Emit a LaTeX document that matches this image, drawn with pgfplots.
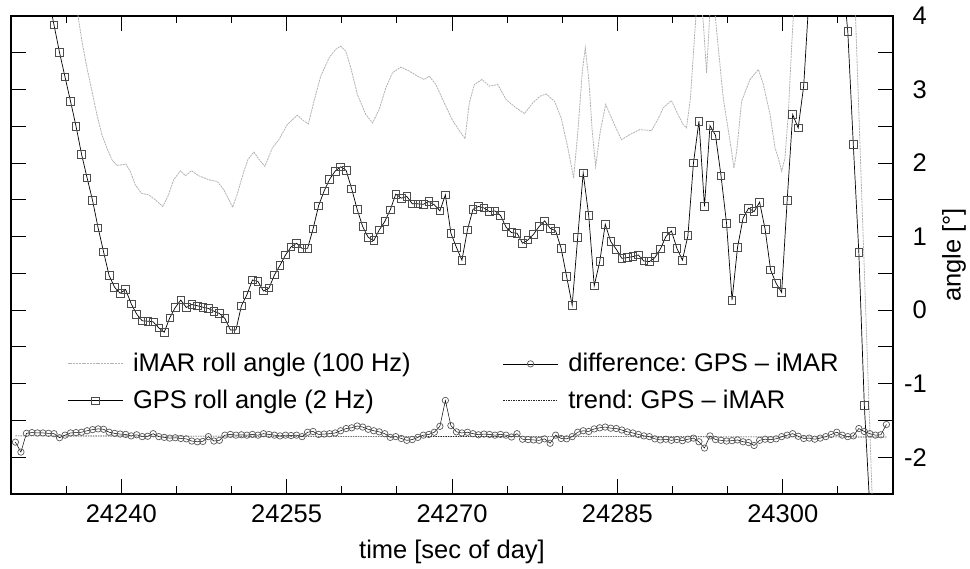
\documentclass[border=0pt]{standalone}
\usepackage{fontspec}
\setmainfont{Liberation Sans}
\usepackage{pgfplots}
\pgfplotsset{compat=1.18}

\begin{document}
\fontsize{25.5}{30}\selectfont\frenchspacing
\begin{tikzpicture}
\useasboundingbox (-11pt,-75pt) rectangle (959pt,494pt);
\begin{axis}[
  at={(0pt,0pt)}, anchor=south west,
  scale only axis, width=882pt, height=478pt,
  xmin=24230, xmax=24310, ymin=-2.5, ymax=4,
  scaled x ticks=false, scaled y ticks=false,
  axis line style={line width=1.1pt},
  tick align=inside,
  major tick length=15pt, minor tick length=7.5pt,
  every tick/.style={black, line width=0.9pt},
  xtick={24240,24255,24270,24285,24300},
  xticklabels={24240,24255,24270,24285,24300},
  minor xtick={24235,24245,24250,24260,24265,24275,24280,24290,24295,24305},
  ytick={-2,-1.5,...,4},
  yticklabels={-2,{},-1,{},0,{},1,{},2,{},3,{},4},
  yticklabel pos=right,
  xticklabel style={anchor=base, yshift=-29pt},
  yticklabel style={anchor=east, xshift=42.5pt},
  xlabel={time [sec of day]},
  ylabel={angle [°]},
  every axis x label/.style={at={(rel axis cs:0.5,0)}, anchor=base, yshift=-65pt},
  every axis y label/.style={at={(rel axis cs:1,0.5)}, xshift=61pt, anchor=center, rotate=90},
  legend columns=2,
  legend cell align=left,
  legend style={draw=none, fill=none, at={(0.0635,0.296)}, anchor=north west,
    inner sep=0pt, row sep=14.6pt, nodes={inner sep=0pt},
    /tikz/every odd column/.append style={column sep=10pt},
    /tikz/every even column/.append style={column sep=92pt}},
  legend image code/.code={\draw[mark repeat=2,mark phase=2,#1] plot coordinates {(0pt,0pt) (27.5pt,0pt) (55pt,0pt)};},
]

% iMAR roll angle, 100 Hz (traced)
\addplot[gray!60, line width=0.8pt, dash pattern=on 2pt off 0.8pt] table {
x y
24235.5 4.5
24236.06 4.02
24236.43 3.66
24236.88 3.30
24237.34 2.98
24237.79 2.66
24238.24 2.39
24238.7 2.205
24239.15 2.046
24239.6 1.968
24240.06 1.977
24240.43 1.986
24240.82 1.886
24241.27 1.705
24241.82 1.59
24242.49 1.568
24243.1 1.50
24243.76 1.41
24244.24 1.55
24244.76 1.773
24245.37 1.895
24245.82 1.828
24246.37 1.895
24247.03 1.828
24247.94 1.773
24248.7 1.75
24249.3 1.64
24249.7 1.52
24250.1 1.40
24250.5 1.568
24251.12 1.886
24251.5 2.05
24252.03 2.15
24252.5 2.05
24253.03 1.955
24253.7 2.205
24254.3 2.318
24255.06 2.523
24255.97 2.65
24256.5 2.58
24256.97 2.532
24257.48 2.84
24258.09 3.18
24258.85 3.43
24259.45 3.546
24259.9 3.59
24260.36 3.523
24260.82 3.296
24261.42 2.932
24262.18 2.66
24262.79 2.546
24263.39 2.728
24264.0 3.023
24264.6 3.228
24265.36 3.305
24266.12 3.25
24266.88 3.182
24267.48 3.137
24267.94 3.182
24268.54 3.068
24269.3 2.818
24270.06 2.578
24270.5 2.478
24271.18 2.332
24271.57 2.818
24272.03 3.068
24272.72 3.137
24273.39 3.046
24274.15 3.068
24274.9 2.864
24275.82 2.75
24276.57 2.673
24277.33 2.818
24278.0 2.91
24278.54 2.94
24279.3 2.84
24279.9 2.614
24280.51 2.205
24281.03 1.795
24281.42 2.432
24281.82 3.25
24282.09 3.568
24282.42 3.114
24282.72 2.432
24283.03 1.955
24283.45 2.432
24283.94 2.796
24284.6 2.568
24285.36 2.318
24286.12 2.386
24287.03 2.455
24288.09 2.441
24288.7 2.6
24289.15 2.75
24289.9 2.85
24290.5 2.66
24290.97 2.523
24291.27 2.48
24291.63 2.886
24291.9 3.5
24292.15 4.05
24292.45 4.4
24292.8 3.9
24293.09 3.227
24293.39 4.05
24293.7 4.3
24294.0 3.8
24294.6 2.886
24295.36 2.16
24295.57 1.93
24295.82 2.16
24296.27 2.84
24297.03 3.136
24297.79 3.273
24298.24 3.068
24298.85 2.66
24299.3 2.205
24299.6 2.068
24299.9 1.886
24300.2 2.068
24300.5 2.66
24300.8 3.568
24301.0 4.1
24301.5 5.0
24306.0 5.5
24306.6 4.0
24308.1 -2.5
24308.3 -3.2
};
\addlegendentry{iMAR roll angle (100 Hz)}

% difference GPS - iMAR at the GPS epochs
\addplot[black, line width=0.5pt, mark=o, mark size=3.2pt,
  mark options={solid, draw=black!65, line width=0.7pt}] table {
x y
24230.4 -1.795
24230.9 -1.93
24231.4 -1.675
24231.9 -1.665
24232.4 -1.67
24232.9 -1.67
24233.4 -1.675
24233.9 -1.68
24234.4 -1.735
24234.9 -1.70
24235.4 -1.67
24235.9 -1.665
24236.4 -1.66
24236.9 -1.64
24237.4 -1.625
24237.9 -1.615
24238.4 -1.62
24238.9 -1.66
24239.4 -1.675
24239.9 -1.685
24240.4 -1.69
24240.9 -1.71
24241.4 -1.695
24241.9 -1.72
24242.4 -1.715
24242.9 -1.68
24243.4 -1.72
24243.9 -1.73
24244.4 -1.74
24244.9 -1.735
24245.4 -1.745
24245.9 -1.75
24246.4 -1.78
24246.9 -1.79
24247.4 -1.785
24247.9 -1.72
24248.4 -1.78
24248.9 -1.77
24249.4 -1.70
24249.9 -1.69
24250.4 -1.70
24250.9 -1.695
24251.4 -1.70
24251.9 -1.69
24252.4 -1.70
24252.9 -1.68
24253.4 -1.69
24253.9 -1.70
24254.4 -1.71
24254.9 -1.70
24255.4 -1.705
24255.9 -1.70
24256.4 -1.72
24256.9 -1.66
24257.4 -1.65
24257.9 -1.69
24258.4 -1.685
24258.9 -1.68
24259.4 -1.67
24259.9 -1.64
24260.4 -1.61
24260.9 -1.60
24261.4 -1.575
24261.9 -1.59
24262.4 -1.62
24262.9 -1.64
24263.4 -1.655
24263.9 -1.68
24264.4 -1.73
24264.9 -1.72
24265.4 -1.745
24265.9 -1.77
24266.4 -1.76
24266.9 -1.73
24267.4 -1.70
24267.9 -1.69
24268.4 -1.66
24268.9 -1.58
24269.4 -1.228
24269.9 -1.57
24270.4 -1.655
24270.9 -1.67
24271.4 -1.66
24271.9 -1.68
24272.4 -1.695
24272.9 -1.685
24273.4 -1.69
24273.9 -1.70
24274.4 -1.69
24274.9 -1.70
24275.4 -1.725
24275.9 -1.68
24276.4 -1.755
24276.9 -1.76
24277.4 -1.765
24277.9 -1.77
24278.4 -1.75
24278.9 -1.81
24279.4 -1.70
24279.9 -1.745
24280.4 -1.75
24280.9 -1.72
24281.4 -1.66
24281.9 -1.64
24282.4 -1.65
24282.9 -1.615
24283.4 -1.60
24283.9 -1.59
24284.4 -1.605
24284.9 -1.61
24285.4 -1.63
24285.9 -1.655
24286.4 -1.67
24286.9 -1.69
24287.4 -1.71
24287.9 -1.72
24288.4 -1.75
24288.9 -1.765
24289.4 -1.755
24289.9 -1.77
24290.4 -1.76
24290.9 -1.775
24291.4 -1.755
24291.9 -1.74
24292.4 -1.79
24292.9 -1.875
24293.4 -1.71
24293.9 -1.76
24294.4 -1.77
24294.9 -1.78
24295.4 -1.775
24295.9 -1.765
24296.4 -1.79
24296.9 -1.80
24297.4 -1.84
24297.9 -1.77
24298.4 -1.755
24298.9 -1.76
24299.4 -1.75
24299.9 -1.72
24300.4 -1.70
24300.9 -1.68
24301.4 -1.715
24301.9 -1.745
24302.4 -1.74
24302.9 -1.755
24303.4 -1.74
24303.9 -1.72
24304.4 -1.69
24304.9 -1.66
24305.4 -1.70
24305.9 -1.72
24306.4 -1.71
24306.9 -1.61
24307.4 -1.65
24307.9 -1.68
24308.4 -1.70
24308.9 -1.695
24309.4 -1.555
};
\addlegendentry{difference: GPS -- iMAR}

% GPS roll angle, 2 Hz
\addplot[black, line width=0.7pt, mark=square, mark size=3.8pt,
  mark options={solid, draw=black!70, line width=0.8pt}] table {
x y
24233.4 4.25
24233.9 3.88
24234.4 3.505
24234.9 3.17
24235.4 2.84
24235.9 2.50
24236.4 2.12
24236.9 1.80
24237.4 1.49
24237.9 1.12
24238.4 0.79
24238.9 0.47
24239.4 0.31
24239.9 0.23
24240.4 0.28
24240.9 0.087
24241.4 -0.054
24241.9 -0.145
24242.4 -0.15
24242.9 -0.16
24243.4 -0.24
24243.9 -0.30
24244.4 -0.104
24244.9 0.036
24245.4 0.137
24245.9 0.036
24246.4 0.077
24246.9 0.06
24247.4 0.04
24247.9 0.023
24248.4 -0.013
24248.9 -0.045
24249.4 -0.113
24249.9 -0.27
24250.4 -0.27
24250.9 0.06
24251.4 0.21
24251.9 0.41
24252.4 0.39
24252.9 0.26
24253.4 0.30
24253.9 0.48
24254.4 0.61
24254.9 0.75
24255.4 0.86
24255.9 0.91
24256.4 0.84
24256.9 0.84
24257.4 1.105
24257.9 1.42
24258.4 1.62
24258.9 1.78
24259.4 1.89
24259.9 1.95
24260.4 1.90
24260.9 1.65
24261.4 1.37
24261.9 1.136
24262.4 0.99
24262.9 0.946
24263.4 1.09
24263.9 1.205
24264.4 1.364
24264.9 1.578
24265.4 1.523
24265.9 1.546
24266.4 1.446
24266.9 1.446
24267.4 1.44
24267.9 1.477
24268.4 1.432
24268.9 1.35
24269.4 1.568
24269.9 1.046
24270.4 0.855
24270.9 0.68
24271.4 1.09
24271.9 1.37
24272.4 1.41
24272.9 1.39
24273.4 1.34
24273.9 1.35
24274.4 1.287
24274.9 1.13
24275.4 1.055
24275.9 1.046
24276.4 0.91
24276.9 0.955
24277.4 1.032
24277.9 1.137
24278.4 1.214
24278.9 1.114
24279.4 1.078
24279.9 0.84
24280.4 0.455
24280.9 0.068
24281.4 0.986
24281.9 1.864
24282.4 1.287
24282.9 0.332
24283.4 0.66
24283.9 1.168
24284.4 0.932
24284.9 0.828
24285.4 0.705
24285.9 0.714
24286.4 0.728
24286.9 0.75
24287.4 0.668
24287.9 0.66
24288.4 0.714
24288.9 0.832
24289.4 1.0
24289.9 1.078
24290.4 0.84
24290.9 0.68
24291.4 1.014
24291.9 2.0
24292.4 2.57
24292.9 1.41
24293.4 2.51
24293.9 2.378
24294.4 1.828
24294.9 1.182
24295.4 0.136
24295.9 0.855
24296.4 1.25
24296.9 1.387
24297.4 1.34
24297.9 1.468
24298.4 1.1
24298.9 0.546
24299.4 0.364
24299.9 0.241
24300.4 1.49
24300.9 2.66
24301.4 2.478
24301.9 3.05
24302.4 4.3
24302.9 5.2
24303.4 5.6
24303.9 5.8
24304.4 5.6
24304.9 5.2
24305.4 4.6
24305.9 3.787
24306.4 2.25
24306.9 0.787
24307.4 -1.295
24307.9 -2.7
24308.4 -4.2
};
\addlegendentry{GPS roll angle (2 Hz)}

% trend of the difference
\addplot[black!85, line width=0.6pt, dash pattern=on 1.5pt off 1pt] table {
x y
24230.4 -1.71
24270.0 -1.718
24309.4 -1.725
};
\addlegendentry{trend: GPS -- iMAR}

\end{axis}
\end{tikzpicture}
\end{document}
